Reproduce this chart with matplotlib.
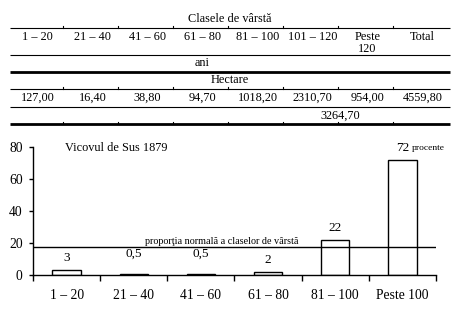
import numpy as np
import matplotlib
matplotlib.use('Agg')
import matplotlib.pyplot as plt

plt.rcParams['font.family'] = ['Liberation Serif', 'DejaVu Serif']

# table data
table_title = 'Clasele de vârstă'
col_headers = ['1 – 20', '21 – 40', '41 – 60', '61 – 80', '81 – 100', '101 – 120', 'Peste\n120', 'Total']
unit_label = 'ani'
area_label = 'Hectare'
area_values = ['127,00', '16,40', '38,80', '94,70', '1018,20', '2310,70', '954,00', '4559,80']
merged_value = '3264,70'

# chart data
classes = ['1 – 20', '21 – 40', '41 – 60', '61 – 80', '81 – 100', 'Peste 100']
percent = [3, 0.5, 0.5, 2, 22, 72]
percent_labels = ['3', '0,5', '0,5', '2', '22', '72']
normal_share = 17.5
chart_title = 'Vicovul de Sus 1879'
normal_label = 'proporţia normală a claselor de vârstă'

W, H = 468, 318
fig = plt.figure(figsize=(W / 100, H / 100), dpi=100)

# ---- table, drawn in pixel coordinates
tab = fig.add_axes([0, 0, 1, 1])
tab.set_xlim(0, W)
tab.set_ylim(H, 0)
tab.axis('off')

x0, x1 = 10, 450
ncol = len(col_headers)
cw = (x1 - x0) / ncol
centers = x0 + cw * (np.arange(ncol) + 0.5)
fs = 8.8

for y, lw in [(28, 0.8), (55, 0.8), (72.3, 2.0), (89, 0.8), (107, 0.8), (124, 2.0)]:
    tab.plot([x0, x1], [y, y], color='black', lw=lw, solid_capstyle='butt')
# tiny column marks
for k in range(1, ncol):
    bx = x0 + cw * k - 2
    for y in (28, 89, 124):
        tab.plot([bx, bx], [y - 2, y], color='black', lw=0.8)

tab.text((x0 + x1) / 2, 19, table_title, ha='center', va='center', fontsize=fs)
for cx, h in zip(centers, col_headers):
    tab.text(cx, 30.5, h, ha='center', va='top', fontsize=fs, linespacing=1.05)
tab.text(centers[3], 63, unit_label, ha='center', va='center', fontsize=fs)
tab.text((x0 + x1) / 2, 80, area_label, ha='center', va='center', fontsize=fs)
for cx, v in zip(centers, area_values):
    tab.text(cx, 97.5, v, ha='center', va='center', fontsize=fs)
tab.text((centers[5] + centers[6]) / 2, 115.5, merged_value, ha='center', va='center', fontsize=fs)

# ---- bar chart
ax = fig.add_axes([33 / W, (H - 275) / H, 403 / W, 128 / H])
pos = np.arange(len(classes))
ax.bar(pos, percent, width=0.42, facecolor='white', edgecolor='black', linewidth=1.0)
ax.axhline(normal_share, color='black', lw=1.0)

ax.set_xlim(-0.5, len(classes) - 0.5)
ax.set_ylim(0, 80)
ax.set_yticks([0, 20, 40, 60, 80])
ax.set_xticks(np.arange(-0.5, len(classes)), minor=False)
ax.set_xticklabels([])
ax.set_xticks(pos, minor=True)
ax.set_xticklabels(classes, minor=True)
ax.tick_params(axis='x', which='major', direction='out', length=4, width=1)
ax.tick_params(axis='x', which='minor', length=0, pad=10, labelsize=9.8)
ax.tick_params(axis='y', direction='out', length=3, width=1, pad=4.5, labelsize=9.8)
for s in ('top', 'right'):
    ax.spines[s].set_visible(False)
ax.spines['left'].set_linewidth(1)
ax.spines['bottom'].set_linewidth(1)
ax.set_facecolor('none')

label_lift = [12, 20, 20, 12, 12, 12]
for p, v, t, dy in zip(pos, percent, percent_labels, label_lift):
    ax.annotate(t, (p, v), xytext=(0, dy * 0.72), textcoords='offset points',
                ha='center', va='center', fontsize=9.5)
ax.annotate('procente', (pos[-1], percent[-1]), xytext=(7, 12 * 0.72),
            textcoords='offset points', ha='left', va='center', fontsize=6.8)

ax.text(-0.02, 79.4, chart_title, ha='left', va='center', fontsize=fs)
ax.text(1.17, normal_share + 0.6, normal_label, ha='left', va='bottom', fontsize=7.3)

fig.savefig('out.png', dpi=100)
